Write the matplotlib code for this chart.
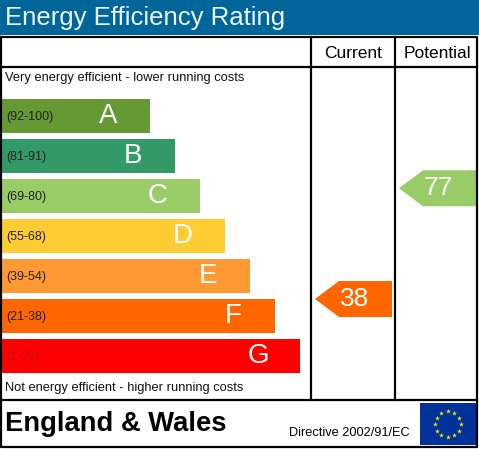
import matplotlib
matplotlib.use("Agg")
from matplotlib import pyplot as plt
from matplotlib.patches import Rectangle, Polygon
import numpy as np

plt.rcParams['font.family'] = ['Liberation Sans', 'DejaVu Sans']

# chart data
bands = ['A', 'B', 'C', 'D', 'E', 'F', 'G']
ranges = ['(92-100)', '(81-91)', '(69-80)', '(55-68)', '(39-54)', '(21-38)', '(1-20)']
lows = [92, 81, 69, 55, 39, 21, 1]
highs = [100, 91, 80, 68, 54, 38, 20]
colors = ['#669933', '#339966', '#99cc66', '#ffcc33', '#ff9933', '#ff6600', '#ff0000']
label_colors = ['#222222'] * 6 + ['#bb1111']
current = 38
potential = 77

W, H = 479, 449
fig = plt.figure(figsize=(W / 100, H / 100), dpi=100)
ax = fig.add_axes([0, 0, 1, 1])
ax.set_xlim(0, W)
ax.set_ylim(H, 0)
ax.axis('off')

# title bar
ax.add_patch(Rectangle((0, 0), W, 35, color='#006699', lw=0))
ax.text(5, 18, 'Energy Efficiency Rating', color='#eef6ff', fontsize=18.5,
        va='center', ha='left')

# frame lines
lw = 1.6
ax.plot([1, 477, 477, 1, 1], [37, 37, 447, 447, 37], color='black', lw=lw)
ax.plot([1, 477], [67, 67], color='black', lw=lw)
ax.plot([1, 477], [400, 400], color='black', lw=lw)
ax.plot([311, 311], [37, 400], color='black', lw=lw)
ax.plot([395, 395], [37, 400], color='black', lw=lw)

ax.text(353, 53, 'Current', fontsize=12.5, ha='center', va='center')
ax.text(437, 53, 'Potential', fontsize=12.5, ha='center', va='center')

ax.text(5, 78, 'Very energy efficient - lower running costs', fontsize=9.3,
        ha='left', va='center', color='#111111')
ax.text(5, 388, 'Not energy efficient - higher running costs', fontsize=9.3,
        ha='left', va='center', color='#111111')

# bands
top0, step, bh = 99, 40, 34
for i, b in enumerate(bands):
    top = top0 + i * step
    right = 150 + 25 * i
    ax.add_patch(Rectangle((1, top), right - 1, bh, color=colors[i], lw=0))
    ax.text(6, top + bh / 2 + 1, ranges[i], fontsize=9, color=label_colors[i],
            ha='left', va='center')
    ax.text(right - 42, top + bh / 2, b, fontsize=20, color='white',
            ha='center', va='center')


def rating_y(r):
    for i in range(len(bands)):
        if lows[i] <= r <= highs[i]:
            top = top0 + i * step
            frac = (r - lows[i]) / (highs[i] - lows[i])
            return top + bh - frac * bh, i
    return None, None


def arrow(r, x0, x1):
    yc, i = rating_y(r)
    ah = 18
    pts = [(x0, yc), (x0 + 24, yc - ah), (x1, yc - ah), (x1, yc + ah), (x0 + 24, yc + ah)]
    ax.add_patch(Polygon(pts, closed=True, color=colors[i], lw=0))
    ax.text((x0 + x1) / 2 + 1, yc, str(r), fontsize=19, color='white',
            ha='center', va='center')


arrow(current, 315, 392)
arrow(potential, 399, 476)

# footer
ax.text(5, 424, 'England & Wales', fontsize=19.7, fontweight='bold',
        ha='left', va='center')
ax.text(289, 433, 'Directive 2002/91/EC', fontsize=9.2, ha='left', va='center')

# EU flag
ax.add_patch(Rectangle((420, 403), 56, 42, color='#003399', lw=0))
ang = np.linspace(0, 2 * np.pi, 13)[:-1]
ax.scatter(448 + 13 * np.cos(ang), 424 + 13 * np.sin(ang), marker='*',
           s=14, color='#ffdd00', lw=0)

fig.savefig('out.png', dpi=100)
